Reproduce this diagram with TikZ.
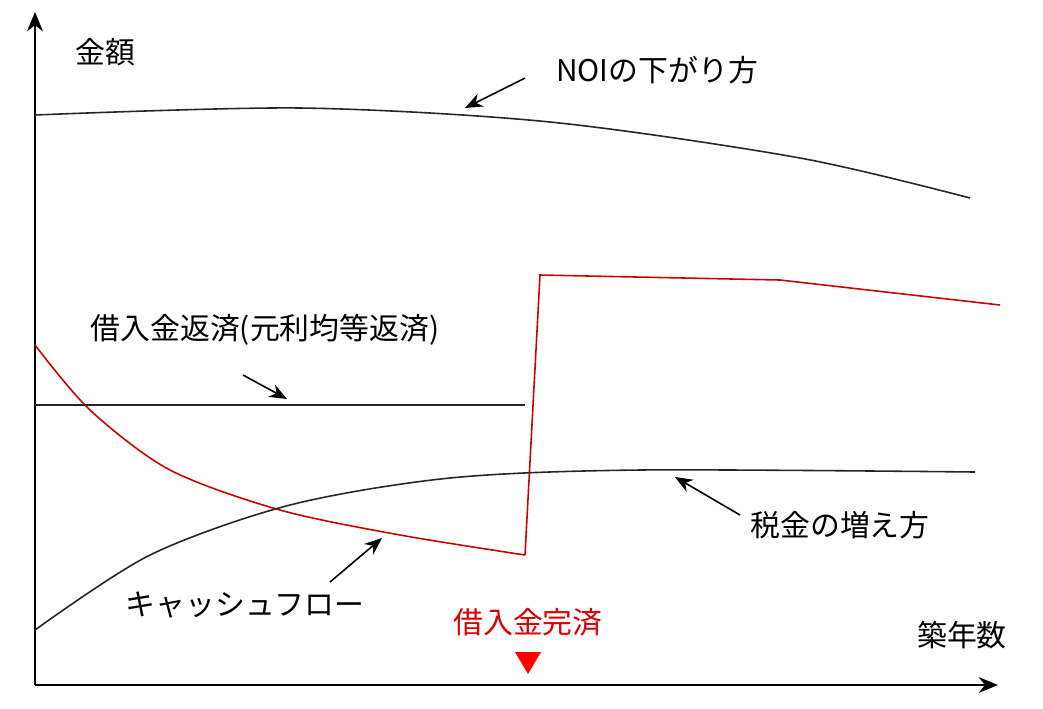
\documentclass[tikz,border=0pt]{standalone}
\usepackage{fontspec}
\setmainfont{Noto Sans CJK JP}
\usetikzlibrary{arrows.meta}
\tikzset{
  lbl/.style={font=\fontsize{17}{19}\selectfont},
  pointer/.style={line width=0.9pt,-{Stealth[length=10pt,width=8pt]}},
  curve/.style={line width=0.9pt},
}
\begin{document}
\begin{tikzpicture}[x=0.02cm,y=-0.02cm]
  \useasboundingbox (0,0) rectangle (1043,708);
  % axes
  \coordinate (O) at (35,685);
  \draw [line width=1.1pt,-{Stealth[length=11pt,width=9pt]}] (O) -- (35,12);
  \draw [line width=1.1pt,-{Stealth[length=11pt,width=9pt]}] (O) -- (998,685);
  % curves
  \draw [curve,black!85] plot[smooth] coordinates {(35,115) (300,108) (550,122) (800,158) (970,198)};
  \draw [curve,red!80!black] plot[smooth] coordinates {(35,345) (90,410) (170,470) (280,510) (400,535) (525,555)};
  \draw [curve,red!80!black] (525,555) -- (540,275) -- (780,280) -- (1000,305);
  \draw [curve,black!85] (35,405) -- (525,405);
  \draw [curve,black!85] plot[smooth] coordinates {(35,630) (150,555) (290,505) (450,478) (640,470) (975,472)};
  % labels
  \node [lbl] (yl) at (105,52) {金額};
  \node [lbl] (noi) at (657,70) {NOIの下がり方};
  \node [lbl] (loan) at (265,330) {借入金返済(元利均等返済)};
  \node [lbl] (tax) at (840,525) {税金の増え方};
  \node [lbl] (cf) at (245,605) {キャッシュフロー};
  \node [lbl,text=red!85!black] (done) at (528,622) {借入金完済};
  \node [lbl] (xl) at (962,635) {築年数};
  \fill [red] (515,652) -- (541,652) -- (528,674) -- cycle;
  % pointers
  \coordinate (noiA) at (525,78);  \coordinate (noiB) at (465,108);
  \coordinate (loanA) at (243,375); \coordinate (loanB) at (287,399);
  \coordinate (taxA) at (740,515); \coordinate (taxB) at (675,477);
  \coordinate (cfA) at (330,582); \coordinate (cfB) at (382,538);
  \draw [pointer] (noiA) -- (noiB);
  \draw [pointer] (loanA) -- (loanB);
  \draw [pointer] (taxA) -- (taxB);
  \draw [pointer] (cfA) -- (cfB);
\end{tikzpicture}
\end{document}
